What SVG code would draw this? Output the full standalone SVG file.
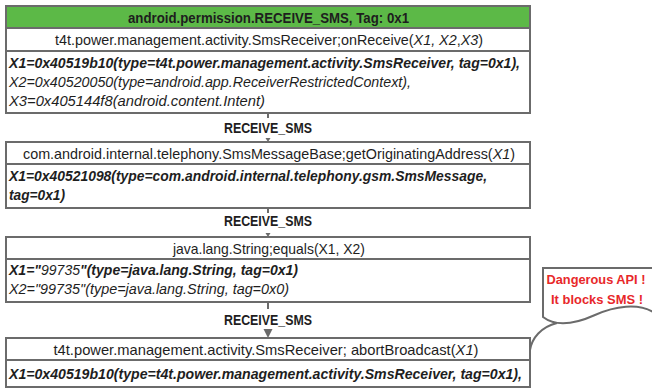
<svg xmlns="http://www.w3.org/2000/svg" width="652" height="390" viewBox="0 0 652 390">
<defs>
<style>
.box{fill:#fff;stroke:#6b6b6b;stroke-width:2}
.hdr{fill:#5cb947;stroke:#6b6b6b;stroke-width:2}
text{font-family:"Liberation Sans",Arial,sans-serif;font-size:15px;fill:#1e1e1e}
.c{text-anchor:middle}
.b{font-weight:bold}
.i{font-style:italic}
.bi{font-weight:bold;font-style:italic}
.lbl{font-weight:bold;text-anchor:middle;font-size:15px}
.red{fill:#e8282a;font-weight:bold;text-anchor:middle;font-size:13px}
.ln{stroke:#6b6b6b;stroke-width:2;fill:none}
.ar{fill:#6b6b6b}
</style>
</defs>

<g id="connectors">
  <line class="ln" x1="268" y1="113" x2="268" y2="118"/>
  <polygon class="ar" points="265.5,138 270.5,138 268,142"/>
  <line class="ln" x1="268" y1="208" x2="268" y2="213"/>
  <polygon class="ar" points="265.5,233 270.5,233 268,237"/>
  <line class="ln" x1="268" y1="302" x2="268" y2="309"/>
  <polygon class="ar" points="263.5,329 272.5,329 268,338"/>
  <text class="lbl" x="268" y="133" textLength="88" lengthAdjust="spacingAndGlyphs">RECEIVE_SMS</text>
  <text class="lbl" x="268" y="226" textLength="88" lengthAdjust="spacingAndGlyphs">RECEIVE_SMS</text>
  <text class="lbl" x="268" y="325" textLength="88" lengthAdjust="spacingAndGlyphs">RECEIVE_SMS</text>
</g>

<g id="node1">
  <rect class="box" x="6" y="6" width="524" height="107"/>
  <rect class="hdr" x="6" y="6" width="524" height="22"/>
  <line class="ln" x1="6" y1="51" x2="530" y2="51"/>
  <text class="b c" x="268.5" y="22.5" textLength="281" lengthAdjust="spacingAndGlyphs">android.permission.RECEIVE_SMS, Tag: 0x1</text>
  <text class="c" x="269" y="45" textLength="428" lengthAdjust="spacingAndGlyphs">t4t.power.management.activity.SmsReceiver;onReceive(<tspan class="i">X1, X2</tspan>,<tspan class="i">X3</tspan>)</text>
  <text class="bi" x="9" y="68" textLength="511" lengthAdjust="spacingAndGlyphs">X1=0x40519b10(type=t4t.power.management.activity.SmsReceiver, tag=0x1),</text>
  <text class="i" x="9" y="87" textLength="402" lengthAdjust="spacingAndGlyphs">X2=0x40520050(type=android.app.ReceiverRestrictedContext),</text>
  <text class="i" x="9" y="106" textLength="256" lengthAdjust="spacingAndGlyphs">X3=0x405144f8(android.content.Intent)</text>
</g>

<g id="node2">
  <rect class="box" x="6" y="142" width="524" height="66"/>
  <line class="ln" x1="6" y1="164" x2="530" y2="164"/>
  <text class="c" x="269" y="158.5" textLength="492" lengthAdjust="spacingAndGlyphs">com.android.internal.telephony.SmsMessageBase;getOriginatingAddress(<tspan class="i">X1</tspan>)</text>
  <text class="bi" x="9" y="181" textLength="478" lengthAdjust="spacingAndGlyphs">X1=0x40521098(type=com.android.internal.telephony.gsm.SmsMessage,</text>
  <text class="bi" x="9" y="200" textLength="56" lengthAdjust="spacingAndGlyphs">tag=0x1)</text>
</g>

<g id="node3">
  <rect class="box" x="6" y="237" width="524" height="65"/>
  <line class="ln" x1="6" y1="259" x2="530" y2="259"/>
  <text class="c" x="269" y="253.5" textLength="192" lengthAdjust="spacingAndGlyphs">java.lang.String;equals(X1, X2)</text>
  <text class="bi" x="9" y="275" textLength="289" lengthAdjust="spacingAndGlyphs">X1="<tspan class="i" font-weight="normal">99735</tspan>"(type=java.lang.String, tag=0x1)</text>
  <text class="i" x="9" y="294" textLength="280" lengthAdjust="spacingAndGlyphs">X2="99735"(type=java.lang.String, tag=0x0)</text>
</g>

<g id="node4">
  <rect class="box" x="6" y="338" width="524" height="49"/>
  <line class="ln" x1="6" y1="360" x2="530" y2="360"/>
  <text class="c" x="266" y="354.5" textLength="425" lengthAdjust="spacingAndGlyphs">t4t.power.management.activity.SmsReceiver; abortBroadcast(<tspan class="i">X1</tspan>)</text>
  <text class="bi" x="9" y="379" textLength="513" lengthAdjust="spacingAndGlyphs">X1=0x40519b10(type=t4t.power.management.activity.SmsReceiver, tag=0x1),</text>
</g>

<g id="callout">
  <path class="ln" d="M557,323 C541,327 532,338 530,350" />
  <path d="M543,317 V268 H653 V312 C638,303 615,306 595,315 C575,324 556,327 543,317 Z" fill="#fff" stroke="#6b6b6b" stroke-width="2"/>
  <text class="red" x="596" y="284" textLength="99" lengthAdjust="spacingAndGlyphs">Dangerous API !</text>
  <text class="red" x="597" y="304" textLength="92" lengthAdjust="spacingAndGlyphs">It blocks SMS !</text>
</g>
</svg>
